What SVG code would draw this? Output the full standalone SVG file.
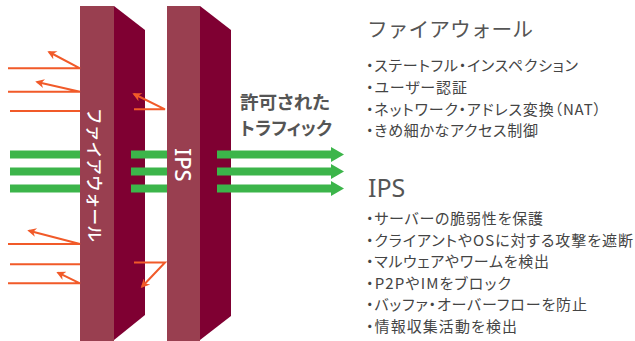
<svg xmlns="http://www.w3.org/2000/svg" width="635" height="341" viewBox="0 0 635 341">
<defs>
<style>
.front{fill:#993f50}
.side{fill:#7f0032}
.ray{fill:none;stroke:#f15a29;stroke-width:2;stroke-linejoin:miter}
.pass{fill:#3cb54a}
.jp{font-family:"Noto Sans CJK JP","Noto Sans",sans-serif}
.lbl{fill:#fff;font-size:16.5px;font-weight:500}
.ttl{fill:#555;font-size:20.5px}
.bul{fill:#444;font-size:15px;font-feature-settings:"palt"}
.ok{fill:#555;font-size:18px;font-weight:bold;font-feature-settings:"palt"}
</style>
<marker id="ah" viewBox="0 0 10 10" refX="8" refY="5" markerWidth="11" markerHeight="9" markerUnits="userSpaceOnUse" orient="auto">
<path d="M0,0 L10,5 L0,10 L3,5 z" fill="#f15a29"/>
</marker>
</defs>
<rect width="635" height="341" fill="#fff"/>

<g id="firewall">
<rect class="front" x="80" y="6" width="34" height="335"/>
<polygon class="side" points="114,6 145,30 145,315 114,340"/>
<text class="jp lbl" transform="translate(95,175) rotate(90)" text-anchor="middle" dominant-baseline="central" textLength="134" lengthAdjust="spacingAndGlyphs">ファイアウォール</text>
</g>

<g id="connectors-mid">
<rect class="pass" x="131" y="150.5" width="36" height="8"/>
<rect class="pass" x="131" y="167.5" width="36" height="8"/>
<rect class="pass" x="131" y="184.5" width="36" height="8"/>
<polyline class="ray" points="134,109.3 165,109.3 134,94" marker-end="url(#ah)"/>
<polyline class="ray" points="134,262.5 165,262.5 142,286.7" marker-end="url(#ah)"/>
</g>

<g id="ips">
<rect class="front" x="167" y="6" width="33" height="335"/>
<polygon class="side" points="200,6 231,30 231,316 200,340"/>
<text transform="translate(183.5,165) rotate(90)" text-anchor="middle" dominant-baseline="central" font-family="Noto Sans, sans-serif" font-size="22" font-weight="500" fill="#fff">IPS</text>
</g>

<g id="connectors">
<rect class="pass" x="10" y="150.5" width="70" height="8"/>
<rect class="pass" x="10" y="167.5" width="70" height="8"/>
<rect class="pass" x="10" y="184.5" width="70" height="8"/>
<polygon class="pass" points="217,150.5 331,150.5 331,147 344,154.5 331,162 331,158.5 217,158.5"/>
<polygon class="pass" points="217,167.5 331,167.5 331,164 344,171.5 331,179 331,175.5 217,175.5"/>
<polygon class="pass" points="217,184.5 331,184.5 331,181 344,188.5 331,196 331,192.5 217,192.5"/>
<polyline class="ray" points="8,68.3 80,68.3 49,52" marker-end="url(#ah)"/>
<polyline class="ray" points="8,91.7 80,91.7 37,82" marker-end="url(#ah)"/>
<line class="ray" x1="10" y1="111" x2="80" y2="111"/>
<polyline class="ray" points="8,244 80,244 29,230.7" marker-end="url(#ah)"/>
<line class="ray" x1="10" y1="264.3" x2="80" y2="264.3"/>
<polyline class="ray" points="8,283.3 80,283.3 58,272.7" marker-end="url(#ah)"/>
</g>

<g id="allowed-label">
<text class="jp ok" x="240" y="108.5" textLength="90" lengthAdjust="spacingAndGlyphs">許可された</text>
<text class="jp ok" x="240" y="134.5" textLength="92" lengthAdjust="spacingAndGlyphs">トラフィック</text>
</g>

<g id="firewall-info">
<text class="jp ttl" x="367" y="37" textLength="166" lengthAdjust="spacingAndGlyphs">ファイアウォール</text>
<text class="jp bul" x="366" y="71" textLength="212" lengthAdjust="spacing">・ステートフル・インスペクション</text>
<text class="jp bul" x="366" y="93" textLength="101" lengthAdjust="spacing">・ユーザー認証</text>
<text class="jp bul" x="366" y="114.5" textLength="235" lengthAdjust="spacing">・ネットワーク・アドレス変換（NAT）</text>
<text class="jp bul" x="366" y="136" textLength="172" lengthAdjust="spacing">・きめ細かなアクセス制御</text>
</g>

<g id="ips-info">
<text x="368" y="197" font-family="Noto Sans, sans-serif" font-size="25" fill="#555">IPS</text>
<text class="jp bul" x="366" y="224" textLength="177" lengthAdjust="spacing">・サーバーの脆弱性を保護</text>
<text class="jp bul" x="366" y="245.5" textLength="267" lengthAdjust="spacing">・クライアントやOSに対する攻撃を遮断</text>
<text class="jp bul" x="366" y="267" textLength="183" lengthAdjust="spacing">・マルウェアやワームを検出</text>
<text class="jp bul" x="366" y="288.5" textLength="145" lengthAdjust="spacing">・P2PやIMをブロック</text>
<text class="jp bul" x="366" y="310" textLength="221" lengthAdjust="spacing">・バッファ・オーバーフローを防止</text>
<text class="jp bul" x="366" y="331.5" textLength="151" lengthAdjust="spacing">・情報収集活動を検出</text>
</g>
</svg>
